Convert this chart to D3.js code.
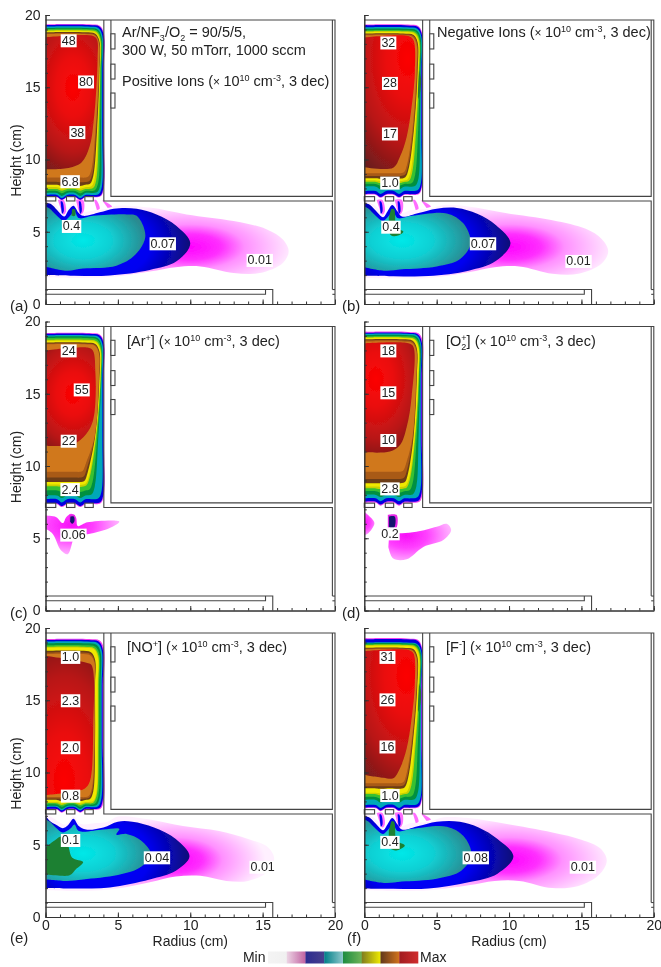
<!DOCTYPE html>
<html><head><meta charset="utf-8">
<script src="https://cdn.jsdelivr.net/npm/d3@7"></script>
<style>
html,body{margin:0;padding:0;background:#fff}
svg{display:block;filter:blur(0.45px)}
text{font-family:"Liberation Sans",Arial,sans-serif;fill:#222}
</style></head><body>
<svg id="chart" width="661" height="967"></svg>
<script>
// ---------- tick labels, categories ----------
const majorTicks=[0,5,10,15,20];
const minorTicks=d3.range(0,21);
const panelTags=['(a)','(b)','(c)','(d)','(e)','(f)'];
const legendSegments=[['#f4f4f4','#f0f0f0'],['#ecd4e4','#c060a0'],['#2c2c90','#48408c'],['#008088','#90c8cc'],['#1c8c40','#70b458'],['#807c20','#f0ec00'],['#60381c','#d4741c'],['#a01c20','#d02c2c']];

// ---------- colours of the contour levels (outermost first) ----------
const levelColours=['#f040f0','#0000e0','#00a8b8','#009040','#38c030','#c8d000','#f0e800','#6c3c18','#a85a18','#d0781c'];
const coreStops=['#fc0202','#ea0c0c','#b81616','#6a1c1c'];
const plumeStops=['#ff00ff','#ff30ff','#ff90ff','#ffc4ff','#fff0ff'];
const blobStops=['#f810f8','#ff40ff','#ff98ff','#ffd0ff'];
const blueStops=['#0000ff','#0000f0','#0c0c78'];
const tealStops=['#00e8e8','#10d0d4','#2a8a90'];

// ---------- upper chamber: [right@17, right@12, right low, top, bottom, wave] per level ----------
const bandsA=[[4.03,4.03,4.03,19.36,7.38,.2],[4,4,4,19.3,7.42,.2],[3.92,3.92,3.9,19.2,7.55,.22],[3.87,3.84,3.8,19.1,7.68,.2],[3.82,3.76,3.65,19.03,7.82,.15],[3.78,3.68,3.5,18.95,7.95,.12],[3.75,3.62,3.4,18.88,8.08,.1],[3.72,3.56,3.3,18.8,8.25,.08],[3.7,3.5,3.25,18.74,8.45,.03],[3.68,3.45,3.18,18.68,8.75,0]];
const bandsB=[[4,4,4,19.34,7.55,.2],[3.97,3.97,3.97,19.28,7.6,.2],[3.93,3.93,3.92,19.15,7.82,.2],[3.88,3.84,3.75,19.05,8.12,.18],[3.82,3.72,3.5,18.95,8.3,.12],[3.78,3.58,3.3,18.88,8.45,.08],[3.74,3.5,3.2,18.8,8.55,.05],[3.68,3.42,3.05,18.72,8.7,.03],[3.65,3.38,3,18.66,8.85,0],[3.6,3.32,2.95,18.6,9.05,0]];
const bandsC=[[4.03,4.03,4.03,19.2,7.36,.2],[4,4,4,19.15,7.42,.2],[3.93,3.93,3.88,19.05,7.7,.22],[3.86,3.65,3.4,18.96,7.96,.18],[3.84,3.58,3.25,18.85,8.3,.1],[3.8,3.5,3.05,18.73,8.6,.05],[3.78,3.46,3,18.65,8.72,.03],[3.72,3.42,2.9,18.55,8.9,0],[3.7,3.4,2.85,18.48,9.2,0],[3.68,3.38,2.8,18.42,9.6,0]];
const bandsD=[[4.02,4.02,4.02,19.28,7.45,.2],[3.96,3.96,3.96,19.22,7.53,.2],[3.9,3.9,3.88,19.15,7.76,.2],[3.85,3.75,3.6,19.07,8,.15],[3.8,3.62,3.35,18.98,8.25,.1],[3.75,3.52,3.15,18.9,8.45,.05],[3.73,3.48,3.1,18.85,8.58,.03],[3.62,3.4,3,18.77,8.8,0],[3.6,3.36,2.95,18.7,9.1,0],[3.58,3.33,2.9,18.62,9.6,0]];
const bandsE=[[4.02,4.02,4.02,19.24,7.42,.2],[3.95,3.95,3.95,19.17,7.47,.2],[3.88,3.88,3.86,19.06,7.6,.22],[3.8,3.8,3.75,18.94,7.68,.2],[3.72,3.72,3.65,18.8,7.78,.15],[3.65,3.65,3.55,18.7,7.87,.12],[3.6,3.6,3.5,18.64,7.95,.1],[3.42,3.42,3.3,18.42,8.1,.08],[3.4,3.4,3.25,18.3,8.2,.03],[3.38,3.38,3.2,18.2,8.3,0]];
const bandsF=[[3.98,3.98,3.98,19.28,7.52,.2],[3.95,3.95,3.95,19.22,7.57,.2],[3.92,3.92,3.9,19,7.75,.2],[3.88,3.84,3.72,18.95,8.1,.18],[3.84,3.7,3.5,18.88,8.3,.12],[3.8,3.55,3.25,18.82,8.5,.08],[3.76,3.48,3.15,18.75,8.6,.05],[3.66,3.35,3,18.64,8.9,.03],[3.63,3.3,2.95,18.58,9.05,0],[3.6,3.25,2.9,18.52,9.25,0]];

// ---------- upper chamber: core (dark-red to red) outline and its brightest spot [r,h,spreadR,spreadH] ----------
const coreA=[[0,9.32],[1.45,9.39],[2.49,9.8],[3.06,10.95],[3.32,12.6],[3.5,14.7],[3.6,17],[3.56,18.3],[3.3,18.55],[0,18.45]];
const coreB=[[0,9.46],[2,9.43],[2.47,10.2],[2.93,11.58],[3.27,13.66],[3.5,16.2],[3.39,18.27],[3.04,18.55],[0,18.45]];
const coreC=[[0,11.4],[1.9,11.5],[2.8,12.2],[3.27,13.1],[3.45,14.5],[3.45,16.4],[3.27,18],[2.9,18.2],[0,18]];
const coreD=[[0,10.95],[1.77,11],[2.47,11.45],[2.93,12.7],[3.27,14.8],[3.39,18.26],[3.04,18.5],[0,18.5]];
const coreE=[[0,8.44],[1.9,8.67],[2.72,8.9],[3.06,9.37],[3.3,13.3],[3.18,17.44],[2.83,17.6],[0,18.08]];
const coreF=[[0,9.83],[1.3,9.64],[2,9.6],[2.47,10.3],[2.93,11.67],[3.27,13.75],[3.5,16.3],[3.39,18.25],[3.04,18.48],[0,18.4]];
const glowA=[1.9,15,3.9,6.8],glowB=[3,17,5,9],glowC=[1.9,15,3.9,5],glowD=[0.8,16,4,6.2],glowE=[1.3,9.4,5.4,11],glowF=[2.9,16.7,5,9];

// ---------- lower chamber outlines ----------
const plumeA=[[0,1.85],[2,1.8],[4.5,1.86],[7.2,2.25],[9,2.55],[10.7,2.6],[13,2.14],[14.8,2.14],[16.4,2.84],[16.8,3.65],[16.4,4.46],[15.3,5.16],[13,5.74],[9.75,6.2],[7.2,6.67],[4.9,6.8],[4.3,6.6],[3.5,6.5],[2.6,6.4],[1.93,7],[1.3,6.3],[0.6,6.95],[0,7.2]];
const plumeB=[[0,1.8],[2,1.78],[4.5,1.8],[7.2,2.2],[9,2.55],[10.7,2.6],[13,2.1],[14.8,2.1],[16.4,2.8],[16.85,3.65],[16.4,4.5],[15.3,5.2],[13,5.8],[9.75,6.3],[7.2,6.75],[5.5,6.85],[4.5,6.6],[3.2,6.5],[2.6,6.3],[1.93,7],[1.5,6.3],[0.6,6.9],[0,7.15]];
const plumeE=[[0,1.85],[2,1.8],[4.5,1.9],[7.2,2.4],[9,2.8],[10.7,2.85],[12.5,2.5],[14,2.5],[15.3,3.1],[15.8,4],[15.4,4.8],[14,5.4],[12,5.95],[9.5,6.3],[7.2,6.75],[5,6.95],[4.3,6.6],[3.5,6.5],[2.4,6.45],[1.93,6.95],[1.4,6.4],[0.6,6.8],[0,7.2]];
const plumeF=[[0,1.85],[2,1.8],[4.5,1.85],[7.2,2.2],[9,2.5],[10.7,2.5],[13,2],[14.8,2.15],[16.2,2.9],[16.75,3.9],[16.3,4.75],[15,5.35],[13,5.85],[9.75,6.45],[7.2,6.85],[5.5,6.9],[4.5,6.6],[3.2,6.5],[2.6,6.3],[1.93,7],[1.5,6.3],[0.6,6.9],[0,7.2]];
const blueA=[[0,2],[2,1.95],[4.45,1.97],[7.2,2.35],[9.05,2.95],[10,4.2],[9.05,5.4],[7.67,6.2],[6.3,6.6],[4.7,6.6],[3.75,6.35],[2.6,6.1],[2.3,6.3],[1.93,6.8],[1.6,6.5],[1.3,6.05],[0.8,6.5],[0.4,6.9],[0,7]];
const blueB=[[0,1.95],[2,1.92],[4.45,1.93],[7.2,2.3],[9.05,2.95],[10.1,4.2],[9.1,5.45],[7.8,6.25],[6.4,6.65],[5,6.6],[3.75,6.3],[2.6,6.05],[2.3,6.4],[1.93,6.85],[1.6,6.4],[1.3,6],[0.8,6.45],[0.4,6.85],[0,7]];
const blueE=[[0,2],[2,1.97],[4.45,2.05],[7.2,2.6],[9,3.2],[9.95,4.2],[9,5.4],[7.5,6.2],[6,6.6],[5,6.6],[4,6.2],[2.8,6.05],[2.3,6.3],[1.93,6.8],[1.55,6.35],[1.2,6.15],[0.7,6.4],[0.3,6.65],[0,7]];
const blueF=[[0,1.98],[2,1.95],[4.45,1.97],[7.2,2.4],[9.2,3],[10.3,4.2],[9.2,5.4],[7.9,6.2],[6.6,6.6],[5,6.6],[3.75,6.3],[2.6,6.05],[2.3,6.4],[1.93,6.85],[1.6,6.4],[1.3,6],[0.8,6.45],[0.4,6.85],[0,7]];
const tealA=[[0,2.6],[1.45,2.3],[2.6,2.45],[4.9,2.65],[6.2,3.4],[6.9,4.7],[6.3,6.1],[5.6,6.2],[3.3,6.1],[2.3,5.95],[2,6.4],[1.7,6.1],[1.3,5.75],[0.7,6.2],[0.3,6.6],[0,6.75]];
const tealB=[[0,2.55],[1.45,2.3],[2.6,2.4],[5,2.6],[6.6,3.1],[7.35,4.2],[6.84,5.58],[5.7,6.27],[3.3,6.1],[2.3,5.95],[2,6.4],[1.7,6.1],[1.3,5.75],[0.7,6.2],[0.3,6.6],[0,6.75]];
const tealE=[[0,2.6],[1.45,2.5],[2.6,2.6],[5,2.9],[6.5,3.4],[7.3,4.3],[6.6,5.3],[5.6,5.75],[4.9,5.7],[5.1,6.1],[4,6.05],[2.3,5.95],[2,6.4],[1.7,6.1],[1.2,5.85],[0.7,6.2],[0.3,6.6],[0,6.75]];
const tealF=[[0,2.6],[1.45,2.35],[2.6,2.45],[5,2.65],[6.7,3.2],[7.4,4.3],[6.85,5.6],[5.7,6.25],[3.3,6.1],[2.3,5.95],[2,6.4],[1.7,6.1],[1.3,5.75],[0.7,6.2],[0.3,6.6],[0,6.75]];
const greenA=[[1.83,6.55],[2.03,6.55],[2.03,6.1],[1.8,6.1]];
const greenB=[[1.85,6.57],[2.05,6.57],[2.15,5.6],[2.2,5.3],[2.7,5],[2.2,4.7],[1.8,4.8],[1.7,5.3],[1.7,6]];
const greenE=[[0,2.95],[1,2.85],[1.7,2.9],[2.1,3.3],[2.6,3.8],[1.85,4.1],[1.55,5],[1.2,5.6],[0.5,5.2],[0,4.8]];
const greenF=[[1.85,6.6],[2.05,6.6],[2.15,5.6],[2.2,5.3],[2.8,4.95],[2.2,4.6],[1.8,4.75],[1.7,5.3],[1.7,6]];
const pinkStrands=[[[0.85,7.2],[1.25,7.2],[1.42,6.4],[1.25,6.2],[1.05,6.6]],[[2.1,7.2],[2.6,7.2],[2.65,6.45],[2.45,6.2],[2.25,6.6]],[[3.35,7.2],[3.5,7.2],[3.75,6.6],[3.55,6.5]],[[3.9,7.2],[4.1,7.1],[4.6,6.75],[4.3,6.65]]];
const blueStrands=[[[1.04,7.1],[1.16,7.1],[1.26,6.4],[1.15,6.25],[1.1,6.5]],[[2.3,7.1],[2.41,7.1],[2.5,6.4],[2.4,6.25],[2.34,6.5]]];
const blobsC=[[[0,6.57],[0.74,6.46],[1.2,6.05],[1.43,6.46],[1.77,6.7],[2.1,6.46],[2.23,5.85],[2.9,6.1],[5.1,6.15],[4.4,5.7],[3,5.3],[2.1,5.2],[1.54,3.9],[1.08,4.15],[0.5,5.3],[0,5.65]]];
const blobsD=[[[0,6.84],[0.5,6.38],[0.7,6.03],[0.28,5.34],[0,5.2]],[[1.73,5.4],[2.6,5.35],[3.6,5.45],[5,5.8],[5.7,6],[6,5.57],[5.46,4.88],[4.08,4.4],[2.93,3.55],[2,3.6],[1.66,4.4]]];
const blobGlowsC=[[1.8,5.9,3.8,2.4]];
const blobGlowsD=[[0,6.1,1.1,1.2],[2.9,5.2,3.6,2.2]];
const spotC=[[1.72,6.5],[1.95,6.5],[2,6.2],[1.85,6],[1.7,6.15]];
const spotD=[[1.7,6.5],[2.1,6.5],[2.1,5.8],[1.9,5.65],[1.7,5.8]];
const wallPatchF=[[3.78,16.2],[3.92,15.6],[3.88,14.8],[3.72,14.2],[3.72,15]];

// ---------- contour labels: [text, r, h] ----------
const labelsA=[['48',1.6,18.25],['80',2.8,15.4],['38',2.2,11.9],['6.8',1.7,8.5],['0.4',1.8,5.4],['0.07',8.1,4.2],['0.01',14.8,3.05]];
const labelsB=[['32',1.66,18.1],['28',1.77,15.3],['17',1.77,11.8],['1.0',1.77,8.4],['0.4',1.84,5.35],['0.07',8.2,4.2],['0.01',14.8,2.98]];
const labelsC=[['24',1.6,18],['55',2.5,15.3],['22',1.6,11.75],['2.4',1.7,8.4],['0.06',1.93,5.25]];
const labelsD=[['18',1.66,18],['15',1.66,15.1],['10',1.66,11.8],['2.8',1.77,8.45],['0.2',1.77,5.34]];
const labelsE=[['1.0',1.73,18],['2.3',1.73,15],['2.0',1.73,11.75],['0.8',1.73,8.4],['0.1',1.73,5.33],['0.04',7.7,4.13],['0.01',15,3.48]];
const labelsF=[['31',1.6,18],['26',1.6,15.06],['16',1.6,11.8],['1.0',1.77,8.44],['0.4',1.77,5.2],['0.08',7.7,4.13],['0.01',15.1,3.48]];

// ---------- reactor geometry (cm) ----------
const outerWall=[[0,19.65],[20,19.65],[20,0]];
const upperBox=[[4.03,19.65],[4.03,7.13],[19.82,7.13],[19.82,1]];
const upperBoxInner=[[4.52,19.65],[4.52,7.45],[19.82,7.45],[19.82,19.65]];
const baseOuter=[[0,1],[15.7,1],[15.7,0]];
const baseInner=[[0,0.67],[15.2,0.67],[15.2,1]];
const baseStubs=[[[19.82,1],[20,1]],[[19.82,0.67],[20,0.67]]];
const coilBoxes=[[4.52,17.65,4.8,18.7],[4.52,15.57,4.8,16.6],[4.52,13.56,4.8,14.6]];
const gridBoxes=[[0,7.13,0.71,7.43],[1.45,7.13,2.03,7.43],[2.72,7.13,3.3,7.43]];

// ---------- notes ----------
const noteA=[
 {y:37,runs:[['Ar/NF'],['3','sub'],['/O'],['2','sub'],[' = 90/5/5,']]},
 {y:55,runs:[['300 W, 50 mTorr, 1000 sccm']]},
 {y:86,runs:[['Positive Ions ('],['× ','x'],['10'],['10','sup'],[' cm'],['-3','sup'],[', 3 dec)']]}];
const tail=[['× ','x'],['10'],['10','sup'],[' cm'],['-3','sup'],[', 3 dec)']];
const noteB=[{y:37,runs:[['Negative Ions (']].concat(tail)}];
const noteC=[{y:346,runs:[['[Ar'],['+','sup'],['] (']].concat(tail)}];
const noteD=[{y:346,runs:[['[O'],['2','sub'],['+','supBack'],['] (']].concat(tail)}];
const noteE=[{y:652,runs:[['[NO'],['+','sup'],['] (']].concat(tail)}];
const noteF=[{y:652,runs:[['[F'],['-','sup'],['] (']].concat(tail)}];

const panels=[
 {col:0,row:0,bands:bandsA,core:coreA,glow:glowA,plume:plumeA,blue:blueA,teal:tealA,green:greenA,labels:labelsA,note:noteA,noteX:122,strands:true},
 {col:1,row:0,bands:bandsB,core:coreB,glow:glowB,plume:plumeB,blue:blueB,teal:tealB,green:greenB,labels:labelsB,note:noteB,noteX:437,strands:true,patch:wallPatchF},
 {col:0,row:1,bands:bandsC,core:coreC,glow:glowC,blobs:blobsC,blobGlows:blobGlowsC,spot:spotC,labels:labelsC,note:noteC,noteX:127},
 {col:1,row:1,bands:bandsD,core:coreD,glow:glowD,blobs:blobsD,blobGlows:blobGlowsD,spot:spotD,labels:labelsD,note:noteD,noteX:446},
 {col:0,row:2,bands:bandsE,core:coreE,glow:glowE,plume:plumeE,blue:blueE,teal:tealE,green:greenE,labels:labelsE,note:noteE,noteX:127},
 {col:1,row:2,bands:bandsF,core:coreF,glow:glowF,plume:plumeF,blue:blueF,teal:tealF,green:greenF,labels:labelsF,note:noteF,noteX:446,strands:true,patch:wallPatchF}
];

// ---------- drawing ----------
const colLeft=[45.5,364.3], rowBottom=[304,610.5,917], plotW=289.5, plotH=289;
const svg=d3.select('#chart');
const defs=svg.append('defs');
const soft=defs.append('filter').attr('id','soft').attr('x','-5%').attr('y','-5%').attr('width','110%').attr('height','110%');
soft.append('feGaussianBlur').attr('stdDeviation',0.55);

function radial(id,x,y,spec,stops){
  const g=defs.append('radialGradient').attr('id',id).attr('gradientUnits','userSpaceOnUse')
    .attr('cx',0).attr('cy',0).attr('r',1)
    .attr('gradientTransform',`translate(${x(spec[0])},${y(spec[1])}) scale(${Math.abs(x(spec[2])-x(0))},${Math.abs(y(spec[3])-y(0))})`);
  stops.forEach(s=>g.append('stop').attr('offset',s[0]).attr('stop-color',s[1]));
  return `url(#${id})`;
}
function bandOutline(b){
  const [rt,rm,rl,top,bot,amp]=b;
  const wave=[[0,bot],[0.8,bot],[1.12,bot-amp],[1.5,bot],[2.05,bot],[2.4,bot-amp],[2.75,bot],[3.2,bot]];
  const pts=wave.filter(p=>p[0]<rl-0.32);
  return pts.concat([[rl-0.22,bot+0.07],[rl,bot+0.6],[rm,12],[rt,16],[rt,top-0.6],[rt-0.28,top-0.1],[rt-1,top],[0,top]]);
}

panels.forEach((p,i)=>{
  const x=d3.scaleLinear().domain([0,20]).range([colLeft[p.col],colLeft[p.col]+plotW]);
  const y=d3.scaleLinear().domain([0,20]).range([rowBottom[p.row],rowBottom[p.row]-plotH]);
  const line=d3.line().x(d=>x(d[0])).y(d=>y(d[1])).curve(d3.curveCatmullRom.alpha(0.5));
  const closed=pts=>line(pts)+'Z';
  const poly=d3.line().x(d=>x(d[0])).y(d=>y(d[1]));
  const clipId='clip'+i;
  defs.append('clipPath').attr('id',clipId).append('rect').attr('x',x(0)).attr('y',y(20)).attr('width',plotW).attr('height',plotH);
  const g=svg.append('g').attr('clip-path',`url(#${clipId})`);
  const m=g.append('g').attr('filter','url(#soft)');

  if(p.plume){
    const tip=p.plume.reduce((a,b)=>b[0]>a[0]?b:a);
    const fPlume=radial('pl'+i,x,y,[tip[0]-6.8,3.95,tip[0]-9.6,3],[[0,plumeStops[0]],[.3,plumeStops[1]],[.52,plumeStops[2]],[.78,plumeStops[3]],[1,plumeStops[4]]]);
    m.append('path').attr('d',closed(p.plume)).attr('fill',fPlume);
    if(p.strands){
      pinkStrands.forEach(f=>m.append('path').attr('d',closed(f)).attr('fill',plumeStops[1]).attr('opacity',0.7));
      blueStrands.forEach(f=>m.append('path').attr('d',closed(f)).attr('fill',blueStops[1]));
    }
    const tipB=p.blue.reduce((a,b)=>b[0]>a[0]?b:a);
    const fBlue=radial('bl'+i,x,y,[3.5,4.2,tipB[0]-3.5,4.4],[[0,blueStops[0]],[.58,blueStops[1]],[1,blueStops[2]]]);
    m.append('path').attr('d',closed(p.blue)).attr('fill',fBlue);
    const tipT=p.teal.reduce((a,b)=>b[0]>a[0]?b:a);
    const fTeal=radial('te'+i,x,y,[2.6,4.4,tipT[0]-2.6,2.7],[[0,tealStops[0]],[.45,tealStops[1]],[1,tealStops[2]]]);
    m.append('path').attr('d',closed(p.teal)).attr('fill',fTeal);
    m.append('path').attr('d',closed(p.green)).attr('fill','#1c8030');
  }
  if(p.blobs){
    p.blobs.forEach((b,j)=>{
      const f=radial('bb'+i+'_'+j,x,y,p.blobGlows[j],[[0,blobStops[0]],[.4,blobStops[1]],[.75,blobStops[2]],[1,blobStops[3]]]);
      m.append('path').attr('d',closed(b)).attr('fill',f);
    });
    m.append('path').attr('d',closed(p.spot.map(q=>[1.85+(q[0]-1.85)*1.5,6.1+(q[1]-6.1)*1.3]))).attr('fill','#e828e8');
    m.append('path').attr('d',closed(p.spot)).attr('fill','#14146e');
  }

  // upper chamber: nested levels, then the core
  p.bands.forEach((b,k)=>m.append('path').attr('d',closed(bandOutline(b))).attr('fill',levelColours[k]));
  if(p.patch) m.append('path').attr('d',closed(p.patch)).attr('fill','#1c8030');
  const fCore=radial('co'+i,x,y,p.glow,[[0,coreStops[0]],[.3,coreStops[1]],[.66,coreStops[2]],[1,coreStops[3]]]);
  m.append('path').attr('d',closed(p.core)).attr('fill',fCore);

  // walls
  const w=svg.append('g').attr('fill','none').attr('stroke','#444').attr('stroke-width',1.1);
  [outerWall,upperBox,upperBoxInner,baseOuter,baseInner,...baseStubs].forEach(s=>w.append('path').attr('d',poly(s)));
  const boxes=list=>list.forEach(b=>w.append('rect')
    .attr('x',x(b[0])).attr('y',y(b[3])).attr('width',x(b[2])-x(b[0])).attr('height',y(b[1])-y(b[3]))
    .attr('fill','#fff'));
  boxes(coilBoxes); boxes(gridBoxes);

  // axes
  const ax=svg.append('g');
  const isBottom=p.row===2, isLeft=p.col===0;
  const fmt=d=>String(d);
  ax.append('g').attr('transform',`translate(0,${y(0)})`)
    .call(d3.axisBottom(x).tickValues(minorTicks).tickSizeInner(-2.5).tickSizeOuter(0).tickFormat(''));
  ax.append('g').attr('transform',`translate(0,${y(0)})`)
    .call(d3.axisBottom(x).tickValues(majorTicks).tickSizeInner(-4.5).tickSizeOuter(0).tickPadding(3).tickFormat(isBottom?fmt:''));
  ax.append('g').attr('transform',`translate(${x(0)},0)`)
    .call(d3.axisLeft(y).tickValues(minorTicks).tickSizeInner(-2.5).tickSizeOuter(0).tickFormat(''));
  ax.append('g').attr('transform',`translate(${x(0)},0)`)
    .call(d3.axisLeft(y).tickValues(majorTicks).tickSizeInner(-4.5).tickSizeOuter(0).tickPadding(5).tickFormat(isLeft?fmt:''));
  ax.selectAll('text').attr('font-size',14).style('font-family','"Liberation Sans",Arial,sans-serif').attr('fill','#222');
  ax.selectAll('path,line').attr('stroke','#333');

  // contour labels
  p.labels.forEach(l=>{
    const lg=svg.append('g');
    const t=lg.append('text').attr('x',x(l[1])).attr('y',y(l[2])).attr('dy','0.36em').attr('text-anchor','middle').attr('font-size',12.5).text(l[0]);
    const bb=t.node().getBBox();
    lg.insert('rect','text').attr('x',bb.x-1).attr('y',bb.y+0.5).attr('width',bb.width+2).attr('height',bb.height-1).attr('fill','#fff');
  });

  // panel note
  p.note.forEach(n=>{
    const t=svg.append('text').attr('x',p.noteX).attr('y',n.y).attr('font-size',14.5);
    let shift=0;
    n.runs.forEach(r=>{
      const k=r[1];
      const off=(k==='sup'||k==='supBack')?-5.5:k==='sub'?3.5:0;
      const s=t.append('tspan').text(r[0]).attr('dy',off-shift);
      if(k==='sup'||k==='sub'||k==='supBack') s.attr('font-size',9);
      if(k==='x') s.attr('font-size',12);
      if(k==='supBack') s.attr('dx',-5);
      shift=off;
    });
  });

  // tags and axis titles
  const tagX=isLeft?10:342, tagY=isBottom?rowBottom[2]+26:rowBottom[p.row]+7;
  svg.append('text').attr('x',isBottom&&!isLeft?347:tagX).attr('y',tagY).attr('font-size',15).text(panelTags[i]);
  if(isLeft) svg.append('text').attr('transform',`translate(21,${y(10)+1}) rotate(-90)`).attr('text-anchor','middle').attr('font-size',14).text('Height (cm)');
  if(isBottom) svg.append('text').attr('x',x(10)).attr('y',946).attr('text-anchor','middle').attr('font-size',14).text('Radius (cm)');
});

// ---------- colour legend ----------
const legendX=d3.scaleBand().domain(d3.range(legendSegments.length)).range([268,418]);
legendSegments.forEach((c,i)=>{
  const g=defs.append('linearGradient').attr('id','lg'+i);
  g.append('stop').attr('offset',0).attr('stop-color',c[0]);
  g.append('stop').attr('offset',1).attr('stop-color',c[1]);
  svg.append('rect').attr('x',legendX(i)).attr('y',951.5).attr('width',legendX.bandwidth()+0.3).attr('height',12).attr('fill',`url(#lg${i})`);
});
svg.append('text').attr('x',265.5).attr('y',962).attr('text-anchor','end').attr('font-size',14).text('Min');
svg.append('text').attr('x',420).attr('y',962).attr('font-size',14).text('Max');
</script></body></html>
